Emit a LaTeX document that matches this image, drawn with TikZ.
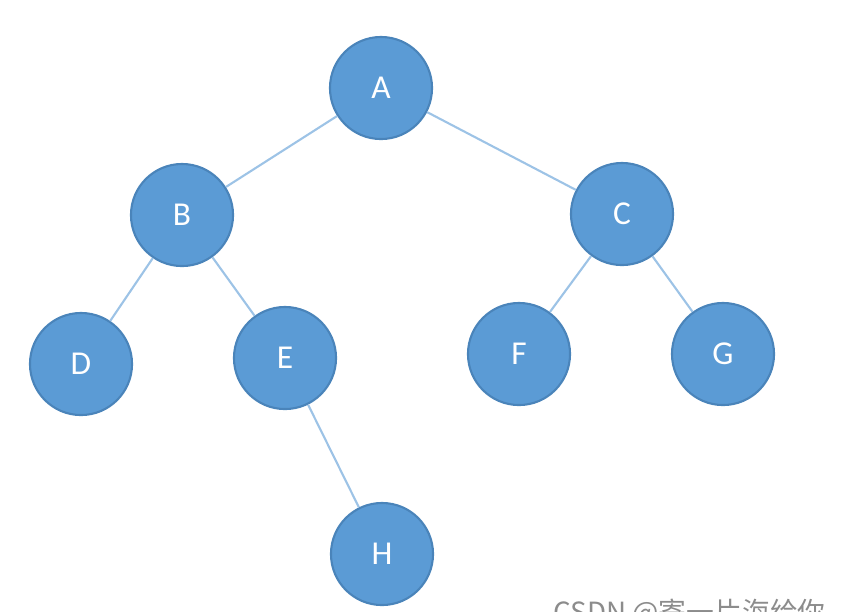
\documentclass[tikz,border=0pt]{standalone}
\usepackage{fontspec}
\setmainfont{Carlito}
\newfontfamily\cjkfont{Noto Sans CJK SC}
\usepackage{xcolor}
\usetikzlibrary{positioning}
\definecolor{nodefill}{HTML}{5B9BD5}
\definecolor{nodeedge}{HTML}{4A84BA}
\definecolor{linkblue}{HTML}{9DC3E6}
\definecolor{markgray}{HTML}{8C8C8C}
\tikzset{
  tnode/.style={circle, draw=nodeedge, line width=0.6pt, fill=nodefill, text=white,
    minimum size=1.02cm, inner sep=0pt, font=\fontsize{9.5}{11}\selectfont},
  link/.style={draw=linkblue, line width=0.6pt},
}

\begin{document}
\begin{tikzpicture}[x=0.01cm, y=-0.01cm]
  \useasboundingbox (0,0) rectangle (864,611);
  \node[tnode] (A) at (381,88) {A};
  \node[tnode] (B) at (182,215) {B};
  \node[tnode] (C) at (622,214) {C};
  \node[tnode] (D) at (81,364) {D};
  \node[tnode] (E) at (285,358) {E};
  \node[tnode] (F) at (519,354) {F};
  \node[tnode] (G) at (723,354) {G};
  \node[tnode] (H) at (382,554) {H};
  \draw[link] (A) -- (B);
  \draw[link] (A) -- (C);
  \draw[link] (B) -- (D);
  \draw[link] (B) -- (E);
  \draw[link] (C) -- (F);
  \draw[link] (C) -- (G);
  \draw[link] (E) -- (H);
  % watermark, cut by the lower edge
  \node[anchor=base west, inner sep=0pt, text=markgray, font=\cjkfont\fontsize{7.9}{9}\selectfont] (mark) at (553,622) {CSDN @寄一片海给你};
\end{tikzpicture}
\end{document}
